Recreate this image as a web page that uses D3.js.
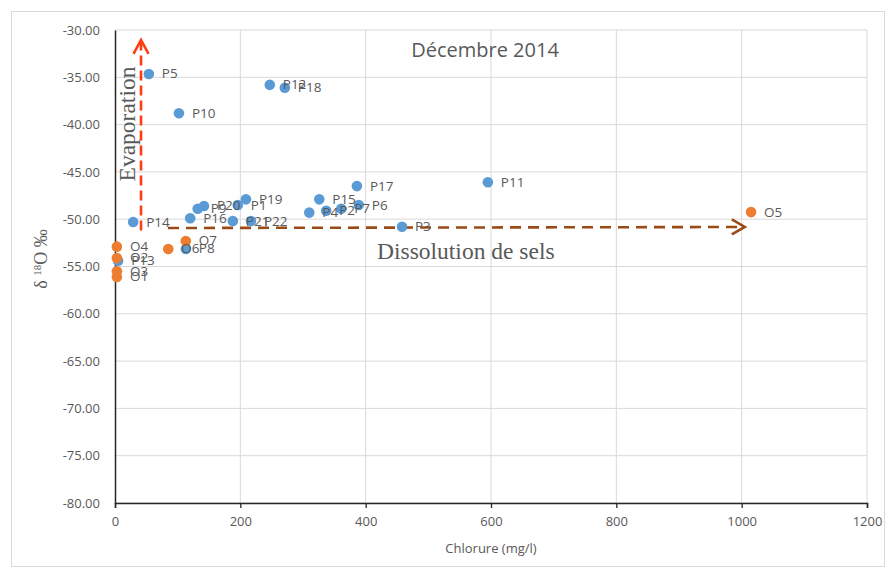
<!DOCTYPE html>
<html><head><meta charset="utf-8">
<script src="https://cdn.jsdelivr.net/npm/d3@7"></script>
<style>body{margin:0;background:#fff}svg{display:block}</style>
</head><body>
<svg id="c" width="890" height="570"></svg>
<script>
const blueLabels = ["P1","P2","P3","P4","P5","P6","P7","P8","P9","P10","P11","P12","P13","P14","P15","P16","P17","P18","P19","P20","P21","P22"];
const blueX = [196,337,458,310,54,389,361,113,132,102,595,247,5,29,326,120,386,271,209,142,188,217];
const blueY = [-48.5,-49.1,-50.8,-49.3,-34.65,-48.5,-48.9,-53.15,-48.9,-38.8,-46.1,-35.8,-54.4,-50.3,-47.9,-49.9,-46.5,-36.1,-47.9,-48.6,-50.2,-50.2];
const orangeLabels = ["O1","O2","O3","O4","O5","O6","O7"];
const orangeX = [3,3,3,3,1015,85,113];
const orangeY = [-56.1,-54.1,-55.5,-52.9,-49.25,-53.15,-52.3];
const xTicks = [0,200,400,600,800,1000,1200];
const yTicks = [-30,-35,-40,-45,-50,-55,-60,-65,-70,-75,-80];
// annotation arrows (data units)
const evapArrow = {x:41.5, y0:-51.2, y1:-31.05};
const dissArrow = {y:-50.93, x0:84.6, x1:1005};

const svg = d3.select("#c");
const x = d3.scaleLinear().domain([0,1200]).range([115,867]);
const y = d3.scaleLinear().domain([-80,-30]).range([503,30]);
const grey = "#595959";
const sans = "'Open Sans', sans-serif";
const serif = "'Liberation Serif', 'Times New Roman', serif";

svg.append("rect").attr("x",11.5).attr("y",11.5).attr("width",873).attr("height",555)
  .attr("fill","#fff").attr("stroke","#d9d9d9");

// gridlines
svg.append("g").selectAll("line").data(yTicks).join("line")
  .attr("x1",x(0)).attr("x2",x(1200)).attr("y1",d=>y(d)).attr("y2",d=>y(d))
  .attr("stroke","#d9d9d9").attr("stroke-width",1);
svg.append("g").selectAll("line").data(xTicks.slice(1)).join("line")
  .attr("x1",d=>x(d)).attr("x2",d=>x(d)).attr("y1",y(-30)).attr("y2",y(-80))
  .attr("stroke","#d9d9d9").attr("stroke-width",1);

// axes
const xAxis = svg.append("g").attr("transform",`translate(0,${y(-80)})`)
  .call(d3.axisBottom(x).tickValues(xTicks).tickSize(5).tickPadding(9).tickFormat(d3.format("d")));
const yAxis = svg.append("g").attr("transform",`translate(${x(0)},0)`)
  .call(d3.axisLeft(y).tickValues(yTicks).tickSize(0).tickPadding(15).tickFormat(d3.format(".2f")));
[xAxis,yAxis].forEach(a=>{
  a.select(".domain").attr("stroke","#262626").attr("stroke-width",1.5);
  a.selectAll(".tick line").attr("stroke","#262626").attr("stroke-width",1.3);
  a.selectAll("text").attr("fill",grey).attr("font-family",sans).attr("font-size",13);
});
yAxis.selectAll(".tick text").text(d=>d3.format(".2f")(d).replace("−","-"));

// axis titles
svg.append("text").attr("x",491).attr("y",553).attr("text-anchor","middle")
  .attr("font-family",sans).attr("font-size",13).attr("fill",grey).text("Chlorure (mg/l)");
const yt = svg.append("text").attr("transform","translate(47,259) rotate(-90)").attr("text-anchor","middle")
  .attr("font-family",serif).attr("font-size",18).attr("fill",grey);
yt.append("tspan").text("δ ");
yt.append("tspan").attr("font-size",11).attr("dy",-6).text("18");
yt.append("tspan").attr("dy",6).text("O ‰");

// title
svg.append("text").attr("x",485).attr("y",57).attr("text-anchor","middle")
  .attr("font-family",sans).attr("font-size",20).attr("fill",grey).text("Décembre 2014");

// arrows
const red = "#ff3c14", brown = "#9a4a17";
svg.append("line").attr("x1",x(evapArrow.x)).attr("x2",x(evapArrow.x))
  .attr("y1",y(evapArrow.y0)).attr("y2",y(evapArrow.y1)+2)
  .attr("stroke",red).attr("stroke-width",2.6).attr("stroke-dasharray","10,5");
svg.append("path").attr("d",`M${x(evapArrow.x)-7.5},${y(evapArrow.y1)+14}L${x(evapArrow.x)},${y(evapArrow.y1)}L${x(evapArrow.x)+7.5},${y(evapArrow.y1)+14}`)
  .attr("fill","none").attr("stroke",red).attr("stroke-width",2.6);
svg.append("line").attr("x1",x(dissArrow.x0)).attr("x2",x(dissArrow.x1)-2)
  .attr("y1",y(dissArrow.y)).attr("y2",y(dissArrow.y)-1)
  .attr("stroke",brown).attr("stroke-width",2.6).attr("stroke-dasharray","11,7");
svg.append("path").attr("d",`M${x(dissArrow.x1)-13},${y(dissArrow.y)-8.5}L${x(dissArrow.x1)},${y(dissArrow.y)-1}L${x(dissArrow.x1)-13},${y(dissArrow.y)+6.5}`)
  .attr("fill","none").attr("stroke",brown).attr("stroke-width",2.6);

// annotation texts
svg.append("text").attr("transform","translate(135,124) rotate(-90)").attr("text-anchor","middle")
  .attr("font-family",serif).attr("font-size",23.5).attr("fill",grey).text("Evaporation");
svg.append("text").attr("x",377).attr("y",259)
  .attr("font-family",serif).attr("font-size",23.5).attr("fill",grey).text("Dissolution de sels");

// points
const blue = blueLabels.map((l,i)=>({l,x:blueX[i],y:blueY[i]}));
const orange = orangeLabels.map((l,i)=>({l,x:orangeX[i],y:orangeY[i]}));
svg.append("g").selectAll("circle").data(blue).join("circle")
  .attr("cx",d=>x(d.x)).attr("cy",d=>y(d.y)).attr("r",5.3).attr("fill","#5b9bd5");
svg.append("g").selectAll("circle").data(orange).join("circle")
  .attr("cx",d=>x(d.x)).attr("cy",d=>y(d.y)).attr("r",5.3).attr("fill","#ed7d31");
svg.append("g").selectAll("text").data(blue.concat(orange)).join("text")
  .attr("x",d=>x(d.x)+13).attr("y",d=>y(d.y)+4.5)
  .attr("font-family",sans).attr("font-size",13.5).attr("fill",grey).text(d=>d.l);
</script>
</body></html>
